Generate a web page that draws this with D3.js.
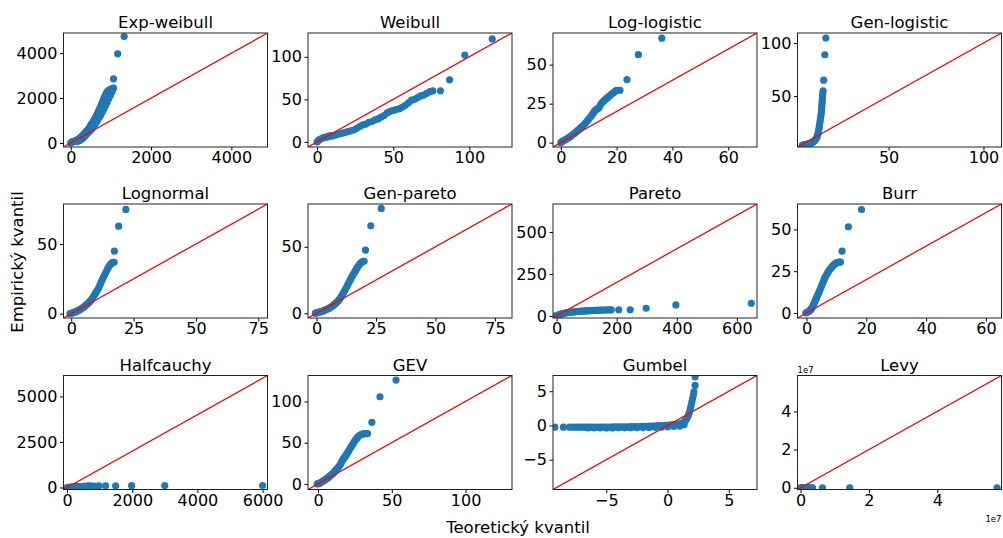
<!DOCTYPE html>
<html>
<head>
<meta charset="utf-8">
<script src="https://cdn.jsdelivr.net/npm/d3@7"></script>
<style>
  html, body { margin: 0; padding: 0; background: #fff; }
  svg text { font-family: "DejaVu Sans", sans-serif; fill: #000; }
</style>
</head>
<body>
<svg id="chart" width="1003" height="538"></svg>
<script>
// Panel titles (fitted distributions)
const titles = ["Exp-weibull", "Weibull", "Log-logistic", "Gen-logistic",
                "Lognormal", "Gen-pareto", "Pareto", "Burr",
                "Halfcauchy", "GEV", "Gumbel", "Levy"];

// Q-Q points per distribution: [theoretical quantile, empirical quantile]
const expWeibull = [[0,0],[20,30],[40,50],[60,65],[80,75],[100,85],[120,95],[140,110],[160,130],[180,150],[200,175],[220,200],[240,230],[260,265],[280,300],[300,335],[320,370],[340,410],[360,450],[380,490],[400,525],[420,560],[440,600],[460,660],[480,720],[500,780],[520,835],[540,890],[560,945],[580,1000],[600,1065],[620,1130],[640,1205],[660,1280],[680,1360],[700,1440],[720,1520],[740,1600],[760,1680],[780,1770],[800,1860],[820,1950],[840,2030],[860,2110],[880,2190],[900,2250],[920,2300],[945,2340],[970,2370],[1000,2395],[1030,2415],[1065,2440],[1065,2860],[1170,3970],[1330,4740],
  [150,60],[190,90],[230,120],[270,170],[310,230],[350,300],[390,380],[430,450],[470,520],[510,600],[550,690],[590,790],[630,900],[670,1010],[710,1130],[750,1260],[790,1390],[830,1530],[870,1680],[910,1830],[950,1990],[990,2140],[1030,2280]];
const weibull = [[0,0],[1,2],[2,3],[3,4],[4,5],[5,5],[6,6],[7,6],[8,7],[9,7],[10,7],[12,8],[14,9],[16,10],[18,11],[20,12],[22,13],[24,14],[26,16],[28,18],[30,20],[32,21],[34,23],[36,24],[38,26],[40,27],[42,29],[44,31],[46,34],[48,36],[50,37],[52,38],[54,39],[56,41],[58,43],[60,46],[62,49],[64,50],[66,52],[68,54],[70,55],[72,57],[74,59],[76,60],[81,60],[87,73],[97,102],[115,121]];
const logLogistic = [[0,0],[0.5,0.8],[1,1.3],[1.5,1.8],[2,2.3],[2.5,2.8],[3,3.4],[3.5,4],[4,4.7],[4.5,5.4],[5,6.1],[5.5,6.9],[6,7.7],[6.5,8.5],[7,9.3],[7.5,10.1],[8,11],[8.5,11.9],[9,12.9],[9.5,14],[10,15.1],[10.5,16.2],[11,17.3],[11.5,18.6],[12,20],[12.5,21],[13,21.5],[13.5,22],[14,23.5],[14.5,25],[15,26],[15.5,27],[16,27.8],[16.5,28.5],[17,29.2],[17.5,30],[18,30.8],[18.5,31.5],[19,32.3],[19.5,33],[20,33.5],[21.2,33.6],[23.7,40.4],[27.8,56.4],[36.2,67]];
const genLogistic = [[4.5,3.5],[5,3.8],[5.5,4],[6,4.2],[6.5,4.4],[7,4.6],[7.5,4.8],[8,5],[8.5,5.3],[9,5.6],[9.5,6],[10,6.5],[10.5,7.2],[11,8],[11.5,9],[12,10.5],[12.4,12],[12.7,14],[13,16],[13.2,18],[13.4,20],[13.6,22.5],[13.8,25],[14,27.5],[14.2,30],[14.4,32.5],[14.6,35],[14.7,37.5],[14.8,40],[14.9,42.5],[15,45],[15.1,47.5],[15.2,50],[15.3,52.5],[15.5,55],[15.8,65],[16.4,89],[16.9,104.8]];
const lognormal = [[-0.5,0],[0,0.3],[0.5,0.6],[1,0.9],[1.5,1.2],[2,1.6],[2.5,2],[3,2.4],[3.5,2.9],[4,3.5],[4.5,4.1],[5,4.7],[5.5,5.5],[6,6.3],[6.5,7.1],[7,7.9],[7.5,8.8],[8,9.9],[8.5,11.2],[9,12.6],[9.5,14],[10,15.4],[10.5,16.8],[11,18.5],[11.5,20.5],[12,22.6],[12.5,24.6],[13,26.5],[13.5,28.3],[14,30.1],[14.5,31.9],[15,33.5],[15.5,34.9],[16,35.9],[16.5,36.6],[17.2,36.9],[17.3,44.9],[19,62.8],[21.9,74.8]];
const genPareto = [[-0.5,0],[0,0.3],[0.5,0.6],[1,0.8],[1.5,1],[2,1.2],[2.5,1.5],[3,1.9],[3.5,2.3],[4,2.7],[4.5,3.1],[5,3.5],[5.5,4],[6,4.6],[6.5,5.2],[7,5.9],[7.5,6.6],[8,7.4],[8.5,8.2],[9,9.1],[9.5,10.2],[10,11.5],[10.5,12.9],[11,14.4],[11.5,15.9],[12,17.5],[12.5,19.1],[13,20.9],[13.5,22.7],[14,24.5],[14.5,26.2],[15,27.8],[15.5,29.4],[16,30.9],[16.5,32.4],[17,33.9],[17.5,35.3],[18,36.6],[18.5,37.7],[19,38.5],[19.5,38.9],[20,39.1],[20.6,47.5],[22.8,65.8],[27.2,78.9]];
const pareto = [[-3,0],[0,2],[3,4],[6,6],[9,8],[12,10],[15,12],[20,14],[25,16],[30,18],[35,19.5],[40,21],[45,22],[50,23],[55,24],[60,25],[65,26],[70,26.8],[75,27.5],[80,28.2],[85,28.8],[90,29.4],[95,30],[100,30.5],[105,31],[110,31.5],[115,32],[120,32.5],[125,33],[130,33.4],[135,33.8],[140,34.2],[145,34.6],[150,35],[158,35.4],[166,35.8],[175,36],[182,36.2],[207,36.5],[245,37],[298,46],[397,66],[648,76]];
const burr = [[-0.2,0],[0.2,0.4],[0.5,0.7],[0.9,1],[1.2,1.6],[1.5,2.3],[1.8,3],[2.1,4.1],[2.4,5.2],[2.6,6],[2.9,7.2],[3.2,8.5],[3.4,9.3],[3.7,10.5],[4,11.7],[4.3,12.9],[4.6,14.2],[4.9,15.6],[5.2,16.9],[5.5,18.2],[5.8,19.5],[6.1,20.8],[6.4,21.9],[6.8,23.1],[7.1,24.2],[7.5,25.3],[7.9,26.2],[8.3,27.2],[8.7,28],[9.1,28.7],[9.4,29.2],[9.8,29.7],[10.2,30.1],[10.5,30.3],[11,30.4],[11.4,30.5],[11.9,37],[14,51.6],[18.4,61.9]];
const halfcauchy = [[0,0],[30,5],[60,10],[90,14],[120,18],[150,22],[180,25],[210,28],[240,31],[270,34],[300,37],[330,40],[360,43],[390,46],[420,49],[450,52],[480,55],[510,58],[540,61],[570,64],[600,67],[630,70],[660,73],[700,76],[750,79],[822,82],[975,86],[1182,90],[1489,95],[1981,100],[2997,105],[6000,110]];
const gev = [[-0.5,0],[0,0.3],[0.7,0.7],[1.4,1.2],[2.1,2],[2.9,2.8],[3.6,3.6],[4.3,4.4],[5,5.3],[5.6,6.1],[6.3,6.9],[7,8],[7.7,9.1],[8.4,10.2],[9,11.1],[9.7,11.8],[10.4,13.2],[11.1,14.7],[11.8,16],[12.4,17.1],[13.1,18.8],[13.8,20.3],[14.5,21.9],[15.1,23.4],[15.8,25.7],[16.5,28.4],[17.1,30.3],[17.8,31.7],[18.5,33.6],[19.2,35.5],[19.9,37.4],[20.6,39.4],[21.3,41.7],[22.1,44],[22.9,46.3],[23.7,48.5],[24.4,50.7],[25.2,52.8],[26,54.7],[26.7,56.3],[27.4,57.7],[28.3,58.9],[29.2,59.8],[30.2,60.6],[31.2,60.8],[32.3,60.9],[33.6,61],[36.5,74.8],[42,105.7],[52.9,126]];
const gumbel = [[-9.2,-0.25],[-8.5,-0.25],[-8.0,-0.25],[-7.7,-0.25],[-7.45,-0.25],[-7.2,-0.25],[-6.95,-0.24],[-6.7,-0.24],[-6.45,-0.24],[-6.2,-0.24],[-5.95,-0.23],[-5.7,-0.23],[-5.45,-0.23],[-5.2,-0.22],[-4.95,-0.22],[-4.7,-0.22],[-4.45,-0.21],[-4.2,-0.21],[-3.95,-0.2],[-3.7,-0.2],[-3.45,-0.19],[-3.2,-0.19],[-2.95,-0.18],[-2.7,-0.17],[-2.45,-0.16],[-2.2,-0.15],[-1.95,-0.14],[-1.7,-0.12],[-1.45,-0.1],[-1.2,-0.08],[-0.95,-0.06],[-0.7,-0.03],[-0.45,0],[-0.2,0.03],[0.05,0.06],[0.3,0.1],[0.55,0.14],[0.8,0.2],[1.05,0.28],[1.25,0.4],[1.4,0.6],[1.5,0.8],[1.6,1.1],[1.7,1.5],[1.78,1.9],[1.85,2.4],[1.92,2.9],[1.98,3.4],[2.04,3.9],[2.1,4.4],[2.15,4.9],[2.25,5.85],[2.25,7.1],
  [-6.5,-0.36],[-6.0,-0.36],[-5.5,-0.36],[-5.0,-0.35],[-4.5,-0.35],[-4.0,-0.34],[-3.5,-0.34],[-3.0,-0.33],[-2.5,-0.32],[-2.0,-0.31],[-1.5,-0.29],[-1.0,-0.27],[-0.5,-0.24],[0.0,-0.2],[0.5,-0.15],[1.0,-0.08],[1.35,0.1]];
const levy = [[0,0],[2e5,5],[4e5,10],[6e5,15],[8e5,20],[1e6,25],[1.2e6,30],[1.4e6,35],[1.6e6,40],[1.8e6,45],[2e6,50],[2.3e6,55],[2.6e6,60],[3e6,65],[3.5e6,70],[6.4e6,80],[1.44e7,90],[5.75e7,110]];

const series = [expWeibull, weibull, logLogistic, genLogistic,
                lognormal, genPareto, pareto, burr,
                halfcauchy, gev, gumbel, levy];

// Shared x/y limits of each panel (square Q-Q frame)
const limits = [[-180, 4900], [-6, 128], [-2.8, 70.3], [2, 109.5],
                [-3.1, 78.7], [-3.6, 82.2], [-12, 667], [-3, 65.2],
                [-110, 6150], [-6.8, 131.5], [-9.35, 7.3], [-0.09e7, 5.88e7]];

// Tick values
const xTicks = [[0, 2000, 4000], [0, 50, 100], [0, 20, 40, 60], [50, 100],
                [0, 25, 50, 75], [0, 25, 50, 75], [0, 200, 400, 600], [0, 20, 40, 60],
                [0, 2000, 4000, 6000], [0, 50, 100], [-5, 0, 5], [0, 2e7, 4e7]];
const yTicks = [[0, 2000, 4000], [0, 50, 100], [0, 25, 50], [50, 100],
                [0, 50], [0, 50], [0, 250, 500], [0, 25, 50],
                [0, 2500, 5000], [0, 50, 100], [-5, 0, 5], [0, 2e7, 4e7]];
// Axis offset multiplier (only Levy uses 1e7)
const tickScale = [1, 1, 1, 1, 1, 1, 1, 1, 1, 1, 1, 1e7];

const xLabel = "Teoretický kvantil";
const yLabel = "Empirický kvantil";

const svg = d3.select("#chart");
const colLeft = [63.5, 308, 553, 797.5];
const rowTop = [33, 204, 375.5];
const W = 204, H = 114;
const tickFont = 16, titleFont = 16.5;

const fmtFor = s => d => {
  const v = d / s;
  return (v < 0 ? "\u2212" : "") + Math.abs(v);
};

series.forEach((pts, i) => {
  const left = colLeft[i % 4], top = rowTop[Math.floor(i / 4)];
  const [lo, hi] = limits[i];
  const x = d3.scaleLinear().domain([lo, hi]).range([0, W]);
  const y = d3.scaleLinear().domain([lo, hi]).range([H, 0]);
  const g = svg.append("g").attr("transform", `translate(${left},${top})`);

  g.append("clipPath").attr("id", "clip" + i)
    .append("rect").attr("width", W).attr("height", H);
  const plot = g.append("g").attr("clip-path", `url(#clip${i})`);

  plot.selectAll("circle").data(pts).join("circle")
    .attr("cx", d => x(d[0])).attr("cy", d => y(d[1]))
    .attr("r", 3.6).attr("fill", "#1f77b4");

  // 45-degree reference line across the frame
  plot.append("line")
    .attr("x1", x(lo)).attr("y1", y(lo))
    .attr("x2", x(hi)).attr("y2", y(hi))
    .attr("stroke", "red").attr("stroke-width", 1.3);

  const fmt = fmtFor(tickScale[i]);
  const gx = g.append("g").attr("transform", `translate(0,${H})`)
    .call(d3.axisBottom(x).tickValues(xTicks[i]).tickFormat(fmt)
      .tickSize(3.5).tickSizeOuter(0).tickPadding(1.5));
  const gy = g.append("g")
    .call(d3.axisLeft(y).tickValues(yTicks[i]).tickFormat(fmt)
      .tickSize(3.5).tickSizeOuter(0).tickPadding(2.7));
  [gx, gy].forEach(a => {
    a.select(".domain").remove();
    a.attr("font-family", null).attr("font-size", null);
    a.selectAll("line").attr("stroke", "#000").attr("stroke-width", 1);
    a.selectAll("text").attr("font-size", tickFont).attr("fill", "#000");
  });

  g.append("rect").attr("width", W).attr("height", H)
    .attr("fill", "none").attr("stroke", "#222").attr("stroke-width", 1);

  g.append("text").attr("x", W / 2).attr("y", -4.7)
    .attr("text-anchor", "middle").attr("font-size", titleFont)
    .text(titles[i]);

  if (tickScale[i] !== 1) {
    const exp = "1e" + Math.round(Math.log10(tickScale[i]));
    g.append("text").attr("x", 0).attr("y", -3).attr("font-size", 8.5).text(exp);
    g.append("text").attr("x", W).attr("y", H + 32).attr("text-anchor", "end")
      .attr("font-size", 8.5).text(exp);
  }
});

svg.append("text")
  .attr("transform", "translate(22.5,262) rotate(-90)")
  .attr("text-anchor", "middle").attr("font-size", titleFont)
  .text(yLabel);

svg.append("text")
  .attr("x", 518).attr("y", 532.5)
  .attr("text-anchor", "middle").attr("font-size", titleFont)
  .text(xLabel);
</script>
</body>
</html>
